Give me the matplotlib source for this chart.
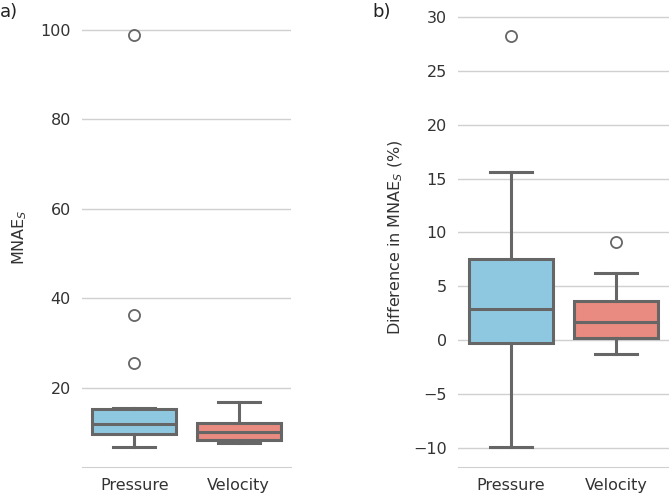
import matplotlib
matplotlib.use("Agg")
import matplotlib.pyplot as plt

categories = ["Pressure", "Velocity"]

# Panel a) MNAE_S box statistics
a_q1 = [9.7, 8.4]
a_med = [11.9, 10.2]
a_q3 = [15.4, 12.2]
a_lo = [6.8, 7.7]
a_hi = [15.6, 16.9]
a_fliers = [[25.6, 36.4, 98.8], []]

# Panel b) Difference in MNAE_S (%) box statistics
b_q1 = [-0.25, 0.2]
b_med = [2.85, 1.7]
b_q3 = [7.55, 3.6]
b_lo = [-9.9, -1.3]
b_hi = [15.6, 6.2]
b_fliers = [[28.2], [9.1]]

colors = ["#8ec8e0", "#e98b80"]
line_c = "#666666"

plt.rcParams['font.family'] = ['DejaVu Sans']

fig = plt.figure(figsize=(6.69, 4.96), dpi=100)
ax1 = fig.add_axes([82/669, 1-467/496, 209/669, (467-8)/496])
ax2 = fig.add_axes([458/669, 1-467/496, 211/669, (467-8)/496])


def draw(ax, q1, med, q3, lo, hi, fl):
    stats = []
    for i, c in enumerate(categories):
        stats.append(dict(label=c, q1=q1[i], med=med[i], q3=q3[i],
                          whislo=lo[i], whishi=hi[i], fliers=fl[i]))
    bp = ax.bxp(stats, positions=range(len(categories)), widths=0.8,
                patch_artist=True,
                boxprops=dict(edgecolor=line_c, linewidth=2.2),
                medianprops=dict(color=line_c, linewidth=2.2),
                whiskerprops=dict(color=line_c, linewidth=2.2),
                capprops=dict(color=line_c, linewidth=2.2),
                flierprops=dict(marker='o', markerfacecolor='none',
                                markeredgecolor=line_c, markersize=8,
                                markeredgewidth=1.3))
    for p, col in zip(bp['boxes'], colors):
        p.set_facecolor(col)
    for cap in bp['caps']:
        x = cap.get_xdata()
        m = (x[0] + x[1]) / 2
        cap.set_xdata([m - 0.2, m + 0.2])
    ax.set_xlim(-0.5, 1.5)
    ax.set_xticks(range(len(categories)))
    ax.set_xticklabels(categories)
    ax.grid(axis='y', color='#d0d0d0', linewidth=1)
    ax.set_axisbelow(True)
    for s in ['left', 'right', 'top']:
        ax.spines[s].set_visible(False)
    ax.spines['bottom'].set_color('#d0d0d0')
    ax.tick_params(length=0, labelsize=11.5, colors='#333333', pad=8)


draw(ax1, a_q1, a_med, a_q3, a_lo, a_hi, a_fliers)
ax1.set_ylim(2.35, 104.9)
ax1.set_yticks([20, 40, 60, 80, 100])
ax1.set_ylabel(r'MNAE$_S$', fontsize=11.5, color='#333333', labelpad=8)

draw(ax2, b_q1, b_med, b_q3, b_lo, b_hi, b_fliers)
ax2.set_ylim(-11.78, 30.83)
ax2.set_yticks([-10, -5, 0, 5, 10, 15, 20, 25, 30])
ax2.set_yticklabels(['\u221210', '\u22125', '0', '5', '10', '15', '20', '25', '30'])
ax2.set_ylabel(r'Difference in MNAE$_S$ (%)', fontsize=11.5, color='#333333', labelpad=6)

fig.text(0/669, 1-12/496, 'a)', fontsize=13, color='#222222', va='center', ha='left')
fig.text(372/669, 1-12/496, 'b)', fontsize=13, color='#222222', va='center', ha='left')

fig.savefig('out.png', dpi=100)
